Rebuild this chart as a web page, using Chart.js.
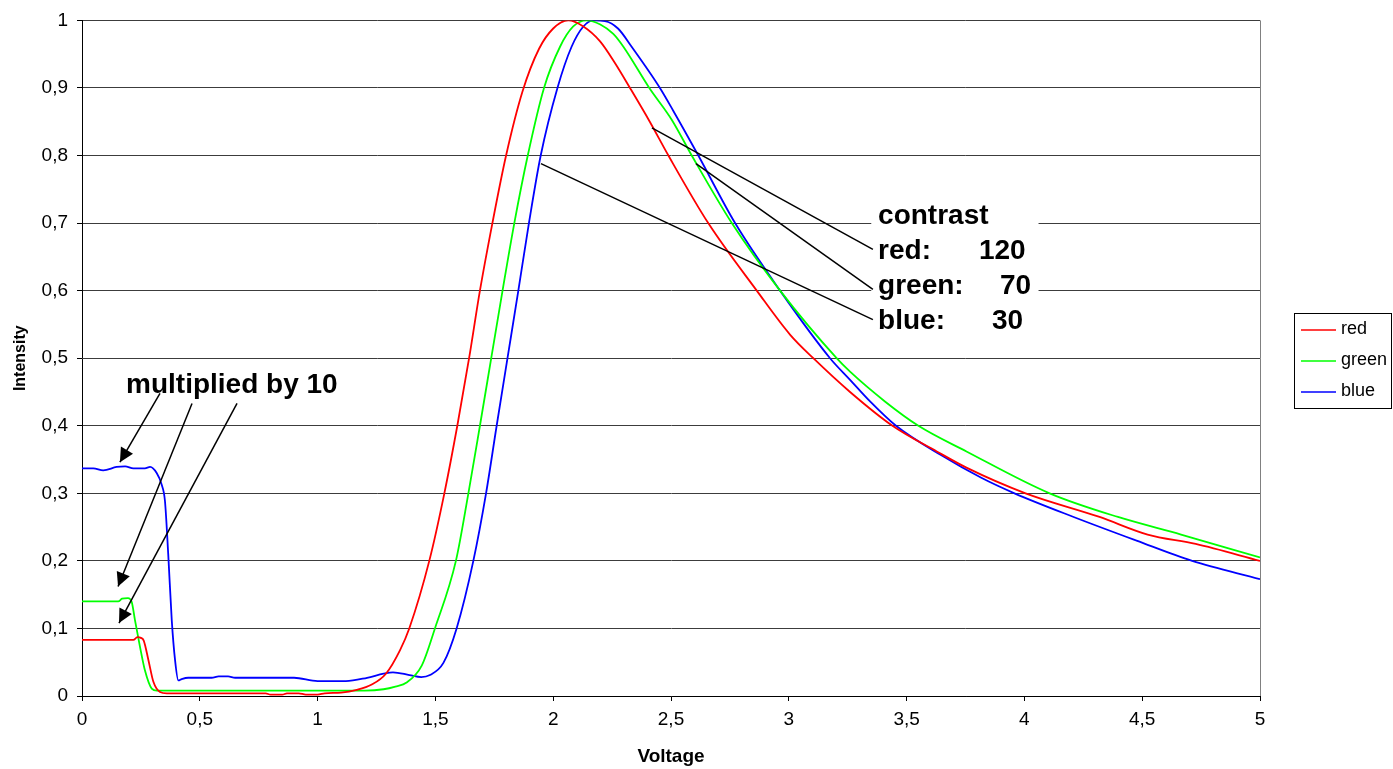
<!DOCTYPE html>
<html>
<head>
<meta charset="utf-8">
<script src="https://cdn.jsdelivr.net/npm/chart.js@4.4.1/dist/chart.umd.min.js"></script>
<style>
  html, body { margin: 0; padding: 0; background: #fff; }
  #wrap { width: 1393px; height: 769px; position: relative; }
</style>
</head>
<body>
<div id="wrap"><canvas id="chart1"></canvas></div>
<script>
// values (voltage / intensity pairs)
const redV = [0, 0.1, 0.218, 0.235, 0.25, 0.262, 0.282, 0.303, 0.331, 0.36, 0.5, 0.7, 0.78, 0.8, 0.85, 0.87, 0.92, 0.95, 1.0, 1.03, 1.1, 1.166, 1.23, 1.29, 1.35, 1.389, 1.474, 1.538, 1.593, 1.643, 1.689, 1.742, 1.8, 1.87, 1.94, 2.0, 2.064, 2.128, 2.199, 2.262, 2.326, 2.41, 2.489, 2.658, 2.864, 3.005, 3.104, 3.26, 3.44, 3.628, 3.754, 4.005, 4.319, 4.523, 4.727, 5.0];
const redI = [0.083, 0.083, 0.083, 0.087, 0.086, 0.082, 0.053, 0.021, 0.006, 0.004, 0.004, 0.004, 0.004, 0.002, 0.002, 0.004, 0.004, 0.002, 0.002, 0.004, 0.005, 0.009, 0.017, 0.033, 0.068, 0.1, 0.2, 0.3, 0.4, 0.5, 0.6, 0.7, 0.8, 0.895, 0.958, 0.988, 1.0, 0.991, 0.969, 0.937, 0.9, 0.85, 0.8, 0.7, 0.6, 0.535, 0.5, 0.45, 0.4, 0.362, 0.338, 0.3, 0.265, 0.239, 0.225, 0.2];

const greenV = [0, 0.154, 0.17, 0.195, 0.211, 0.225, 0.246, 0.267, 0.296, 0.318, 0.5, 0.8, 1.0, 1.2, 1.28, 1.33, 1.378, 1.442, 1.498, 1.587, 1.64, 1.689, 1.737, 1.785, 1.835, 1.892, 1.961, 2.029, 2.085, 2.142, 2.2, 2.255, 2.298, 2.408, 2.503, 2.588, 2.758, 2.963, 3.203, 3.26, 3.408, 3.55, 3.754, 4.107, 4.397, 4.665, 5.0];
const greenI = [0.14, 0.14, 0.144, 0.145, 0.139, 0.112, 0.073, 0.038, 0.011, 0.008, 0.008, 0.008, 0.008, 0.008, 0.01, 0.014, 0.02, 0.045, 0.1, 0.2, 0.3, 0.4, 0.5, 0.6, 0.7, 0.8, 0.9, 0.961, 0.991, 1.0, 0.994, 0.98, 0.961, 0.9, 0.853, 0.8, 0.7, 0.6, 0.5, 0.48, 0.436, 0.4, 0.362, 0.3, 0.265, 0.239, 0.205];

const blueV = [0, 0.048, 0.09, 0.147, 0.183, 0.218, 0.267, 0.289, 0.317, 0.338, 0.352, 0.366, 0.381, 0.395, 0.409, 0.423, 0.451, 0.55, 0.58, 0.62, 0.65, 0.9, 1.0, 1.12, 1.21, 1.28, 1.32, 1.39, 1.44, 1.477, 1.534, 1.59, 1.661, 1.715, 1.76, 1.806, 1.852, 1.897, 1.947, 2.018, 2.078, 2.128, 2.171, 2.22, 2.275, 2.333, 2.453, 2.51, 2.616, 2.772, 2.963, 3.175, 3.26, 3.345, 3.455, 3.644, 3.817, 3.958, 4.209, 4.476, 4.712, 5.0];
const blueI = [0.337, 0.337, 0.334, 0.339, 0.34, 0.337, 0.337, 0.339, 0.33, 0.313, 0.289, 0.21, 0.112, 0.053, 0.023, 0.025, 0.027, 0.027, 0.029, 0.029, 0.027, 0.027, 0.022, 0.022, 0.027, 0.033, 0.035, 0.031, 0.028, 0.031, 0.049, 0.1, 0.2, 0.3, 0.4, 0.5, 0.6, 0.7, 0.8, 0.9, 0.961, 0.991, 1.0, 0.999, 0.988, 0.961, 0.9, 0.866, 0.8, 0.7, 0.6, 0.5, 0.468, 0.436, 0.4, 0.357, 0.323, 0.3, 0.265, 0.23, 0.2, 0.173];

const seriesNames = ['red', 'green', 'blue'];
const seriesColors = ['#ff0000', '#00ff00', '#0000ff'];

// annotation texts
const noteMultiplied = 'multiplied by 10';
const contrastTitle = 'contrast';
const contrastNames = ['red:', 'green:', 'blue:'];
const contrastValues = ['120', '70', '30'];

// annotation placement, in axis units
const arrowFrom = [[0.331, 0.448], [0.467, 0.433], [0.658, 0.433]];
const arrowTo = [[0.161, 0.346], [0.153, 0.162], [0.157, 0.108]];
const contrastFrom = [[2.419, 0.841], [2.606, 0.788], [1.948, 0.788]];
const contrastTo = [[3.357, 0.661], [3.357, 0.602], [3.357, 0.557]];

const FONT = "'Liberation Sans', Arial, sans-serif";
Chart.defaults.font.family = FONT;
Chart.defaults.color = '#000';

function toPoints(vs, is) {
  let pts = [];
  for (let i = 0; i < vs.length; i++) {
    pts.push({ x: vs[i], y: is[i] });
  }
  return pts;
}

const allV = [redV, greenV, blueV];
const allI = [redI, greenI, blueI];
let datasets = [];
for (let j = 0; j < seriesNames.length; j++) {
  datasets.push({
    label: seriesNames[j],
    data: toPoints(allV[j], allI[j]),
    borderColor: seriesColors[j],
    backgroundColor: seriesColors[j],
    borderWidth: 1.8,
    pointRadius: 0,
    cubicInterpolationMode: 'monotone',
    fill: false
  });
}

function comma(v) {
  return (Math.round(v * 10) / 10).toString().replace('.', ',');
}

function arrowHead(ctx, x0, y0, x1, y1) {
  const a = Math.atan2(y1 - y0, x1 - x0);
  const len = 14, half = 7;
  ctx.beginPath();
  ctx.moveTo(x1, y1);
  ctx.lineTo(x1 - len * Math.cos(a) + half * Math.sin(a), y1 - len * Math.sin(a) - half * Math.cos(a));
  ctx.lineTo(x1 - len * Math.cos(a) - half * Math.sin(a), y1 - len * Math.sin(a) + half * Math.cos(a));
  ctx.closePath();
  ctx.fill();
}

// frame on the right, text boxes, arrows and pointer lines
const notes = {
  id: 'notes',
  beforeDatasetsDraw(chart) {
    const ctx = chart.ctx, a = chart.chartArea;
    const xs = chart.scales.x, ys = chart.scales.y;
    ctx.save();
    ctx.strokeStyle = '#808080';
    ctx.lineWidth = 1;
    ctx.beginPath();
    ctx.moveTo(a.right + 0.5, a.top);
    ctx.lineTo(a.right + 0.5, a.bottom);
    ctx.stroke();
    // white box under the contrast text
    const bx = xs.getPixelForValue(3.35), bx2 = xs.getPixelForValue(4.06);
    const by = ys.getPixelForValue(0.735), by2 = ys.getPixelForValue(0.53);
    ctx.fillStyle = '#fff';
    ctx.fillRect(bx, by, bx2 - bx, by2 - by);
    ctx.restore();
  },
  afterDatasetsDraw(chart) {
    const ctx = chart.ctx;
    const xs = chart.scales.x, ys = chart.scales.y;
    const px = v => xs.getPixelForValue(v);
    const py = v => ys.getPixelForValue(v);
    ctx.save();
    ctx.strokeStyle = '#000';
    ctx.fillStyle = '#000';
    ctx.lineWidth = 1.5;
    for (let i = 0; i < arrowFrom.length; i++) {
      const x0 = px(arrowFrom[i][0]), y0 = py(arrowFrom[i][1]);
      const x1 = px(arrowTo[i][0]), y1 = py(arrowTo[i][1]);
      ctx.beginPath();
      ctx.moveTo(x0, y0);
      ctx.lineTo(x1, y1);
      ctx.stroke();
      arrowHead(ctx, x0, y0, x1, y1);
    }
    for (let i = 0; i < contrastFrom.length; i++) {
      ctx.beginPath();
      ctx.moveTo(px(contrastFrom[i][0]), py(contrastFrom[i][1]));
      ctx.lineTo(px(contrastTo[i][0]), py(contrastTo[i][1]));
      ctx.stroke();
    }
    ctx.font = 'bold 28px ' + FONT;
    ctx.textBaseline = 'alphabetic';
    ctx.textAlign = 'left';
    ctx.fillText(noteMultiplied, px(0.187), py(0.448));
    ctx.fillText(contrastTitle, px(3.379), py(0.6985));
    const rows = [0.647, 0.5954, 0.5439];
    const valX = [3.807, 3.896, 3.862];
    for (let i = 0; i < contrastNames.length; i++) {
      ctx.fillText(contrastNames[i], px(3.379), py(rows[i]));
      ctx.fillText(contrastValues[i], px(valX[i]), py(rows[i]));
    }
    ctx.restore();
  }
};

// boxed legend at the right
const legendBox = {
  id: 'legendBox',
  afterDraw(chart) {
    const ctx = chart.ctx, a = chart.chartArea;
    const w = 97, h = 95;
    const left = a.right + 34;
    const top = Math.round((a.top + a.bottom) / 2 - h / 2 + 2);
    ctx.save();
    ctx.strokeStyle = '#000';
    ctx.lineWidth = 1;
    ctx.strokeRect(left + 0.5, top + 0.5, w, h);
    ctx.font = '18px ' + FONT;
    ctx.textBaseline = 'middle';
    chart.data.datasets.forEach((ds, i) => {
      const y = top + 17 + i * 31;
      ctx.strokeStyle = ds.borderColor;
      ctx.lineWidth = 1.5;
      ctx.beginPath();
      ctx.moveTo(left + 7, y);
      ctx.lineTo(left + 42, y);
      ctx.stroke();
      ctx.fillStyle = '#000';
      ctx.fillText(ds.label, left + 47, y - 1);
    });
    ctx.restore();
  }
};

const config = {
  type: 'line',
  data: { datasets: datasets },
  options: {
    responsive: true,
    maintainAspectRatio: false,
    animation: false,
    layout: { padding: { left: 0, top: 17, right: 133, bottom: 0 } },
    plugins: {
      legend: { display: false },
      tooltip: { enabled: false }
    },
    scales: {
      x: {
        type: 'linear',
        min: 0,
        max: 5,
        afterFit: s => { s.height = 73; },
        border: { color: '#000', width: 1 },
        grid: { drawOnChartArea: false, tickLength: 5, color: '#000' },
        ticks: {
          stepSize: 0.5,
          autoSkip: false,
          maxRotation: 0,
          padding: 7,
          font: { size: 19 },
          callback: v => comma(v)
        },
        title: {
          display: true,
          text: 'Voltage',
          font: { size: 19, weight: 'bold' },
          padding: { top: 0, bottom: 1 }
        }
      },
      y: {
        min: 0,
        max: 1,
        afterFit: s => { s.width = 82; },
        border: { color: '#000', width: 1 },
        grid: { color: '#3c3c3c', tickColor: '#000', tickLength: 5 },
        ticks: {
          stepSize: 0.1,
          padding: 9,
          font: { size: 19 },
          callback: v => comma(v)
        },
        title: {
          display: true,
          text: 'Intensity',
          font: { size: 16, weight: 'bold' },
          padding: { top: 11, bottom: 0 }
        }
      }
    }
  },
  plugins: [notes, legendBox]
};

const myChart = new Chart(document.getElementById('chart1'), config);
</script>
</body>
</html>
